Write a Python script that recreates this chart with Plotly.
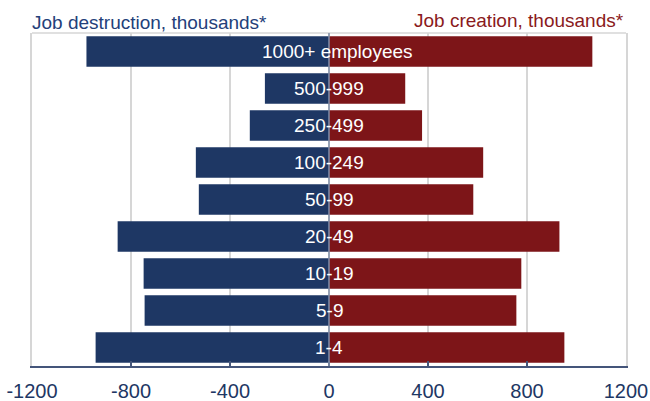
import plotly.graph_objects as go

# Firm size classes, bottom to top
size_classes = ["1-4", "5-9", "10-19", "20-49", "50-99", "100-249",
                "250-499", "500-999", "1000+ employees"]
# Jobs destroyed (negative) and created, thousands
job_destruction = [-943, -745, -749, -854, -526, -538, -320, -259, -980]
job_creation = [951, 757, 777, 931, 583, 623, 376, 308, 1064]
x_ticks = [-1200, -800, -400, 0, 400, 800, 1200]

BLUE = "#1e3764"
RED = "#7d1518"
GRID = "#d6d6d6"
AXIS = "#44557a"
FONT = "Liberation Sans"

fig = go.Figure()
fig.add_trace(go.Bar(y=size_classes, x=job_destruction, orientation="h",
                     marker=dict(color=BLUE, line=dict(width=0)),
                     name="Job destruction", hoverinfo="x+y"))
fig.add_trace(go.Bar(y=size_classes, x=job_creation, orientation="h",
                     marker=dict(color=RED, line=dict(width=0)),
                     name="Job creation", hoverinfo="x+y"))

# Size-class labels centred on the zero line
for cat in size_classes:
    fig.add_annotation(x=0, y=cat, xref="x", yref="y", text=cat,
                       showarrow=False, xanchor="center", yanchor="middle",
                       xshift=8 if cat.startswith("1000") else 0,
                       font=dict(family=FONT, size=19, color="white"))

# Side headings
fig.add_annotation(x=0, y=1, xref="paper", yref="paper", xanchor="left",
                   yanchor="bottom", yshift=-2, xshift=-2, showarrow=False,
                   text="Job destruction, thousands*",
                   font=dict(family=FONT, size=19, color="#23407a"))
fig.add_annotation(x=1, y=1, xref="paper", yref="paper", xanchor="right",
                   yanchor="bottom", yshift=0, xshift=0, showarrow=False,
                   text="Job creation, thousands*",
                   font=dict(family=FONT, size=19, color="#8a1a20"))

# Zero line over the bars and top frame edge
fig.add_shape(type="line", xref="x", yref="paper", x0=0, x1=0, y0=0, y1=1,
              line=dict(color="#8391aa", width=1.5), layer="above")
fig.add_shape(type="line", xref="paper", yref="paper", x0=0, x1=1, y0=1, y1=1,
              line=dict(color=GRID, width=1.5), layer="below")

fig.update_layout(
    width=650, height=401,
    margin=dict(l=32, r=24, t=33, b=35, autoexpand=False),
    barmode="relative", bargap=0.17,
    showlegend=False,
    plot_bgcolor="white", paper_bgcolor="white",
    font=dict(family=FONT, color=BLUE),
    xaxis=dict(range=[-1200, 1200], tickvals=x_ticks,
               ticktext=[str(v) for v in x_ticks],
               showgrid=True, gridcolor=GRID, gridwidth=1.5,
               zeroline=False, showline=True, linecolor=AXIS, linewidth=1.5,
               ticks="inside", ticklen=5, tickwidth=1.5, tickcolor=AXIS,
               ticklabelstandoff=6,
               tickfont=dict(family=FONT, size=20, color=BLUE),
               automargin=False, fixedrange=True),
    yaxis=dict(categoryorder="array", categoryarray=size_classes,
               range=[-0.5, 8.5], showticklabels=False, showgrid=False,
               zeroline=False, showline=True, mirror=True,
               linecolor=GRID, linewidth=1.5, ticks="", automargin=False,
               fixedrange=True),
)

fig.write_html("out.html")
